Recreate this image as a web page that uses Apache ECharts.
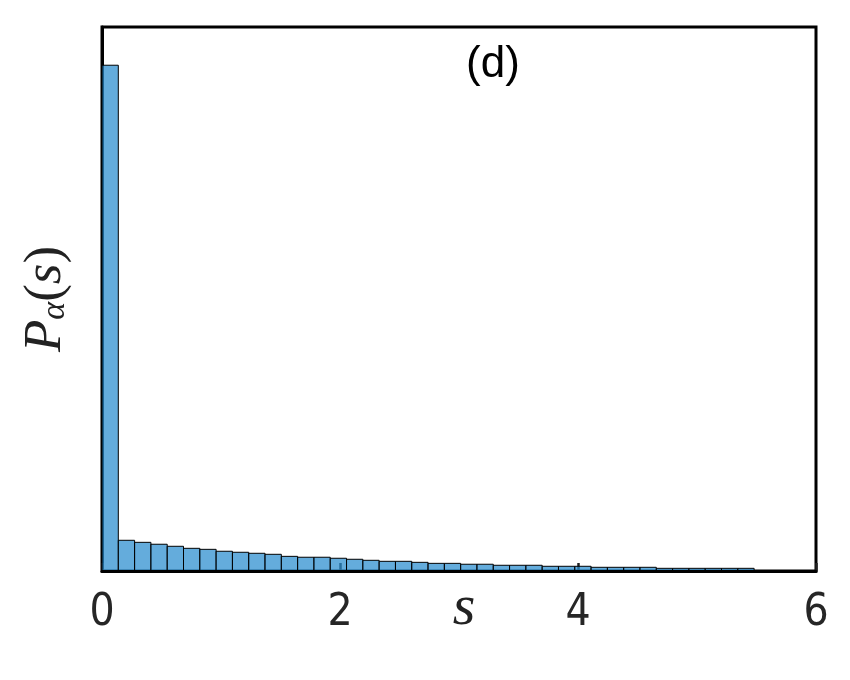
<!DOCTYPE html>
<html><head><meta charset="utf-8">
<script src="https://cdn.jsdelivr.net/npm/echarts@6/dist/echarts.min.js"></script>
<style>html,body{margin:0;padding:0;background:#fff}#c{width:850px;height:680px}</style>
</head><body><div id="c"></div>
<script>
// histogram bins (left edge of first bin and bin width, in units of s)
const binStart = 0;
const binWidth = 0.137;
// bar heights (probability density)
const density = [
  3.97, 0.241, 0.225, 0.210, 0.194, 0.178, 0.170, 0.155, 0.147, 0.139,
  0.131, 0.115, 0.108, 0.108, 0.100, 0.092, 0.084, 0.076, 0.076, 0.068,
  0.060, 0.060, 0.053, 0.053, 0.045, 0.045, 0.045, 0.037, 0.037, 0.037,
  0.029, 0.029, 0.029, 0.029, 0.021, 0.021, 0.021, 0.021, 0.021, 0.021
];
const xTickValues = [0, 2, 4, 6];
const panelLabel = '(d)';
const xName = 's';

const data = density.map((v, i) => [binStart + i * binWidth, binStart + (i + 1) * binWidth, v]);

const narrowFont = "'DejaVu Sans Condensed','Liberation Sans',Arial,sans-serif";
const sansFont = "'Liberation Sans',Arial,sans-serif";
const serifFont = "'Liberation Serif','DejaVu Serif',serif";

const chart = echarts.init(document.getElementById('c'));
chart.setOption({
  animation: false,
  backgroundColor: '#fff',
  title: {
    text: panelLabel, left: 488, top: 38, textAlign: 'center',
    textStyle: { fontSize: 44, fontWeight: 'normal', color: '#000', fontFamily: sansFont }
  },
  grid: { left: 102, right: 34, top: 27, bottom: 109, show: true, borderColor: '#000', borderWidth: 3, outerBoundsMode: 'none', containLabel: false },
  xAxis: [{
    type: 'value', min: xTickValues[0], max: xTickValues[xTickValues.length - 1], interval: 2, z: 3,
    axisLine: { show: true, lineStyle: { color: '#000', width: 3 } },
    axisTick: { show: false }, splitLine: { show: false },
    axisLabel: { fontSize: 44, margin: 21, color: '#262626', fontFamily: narrowFont },
    name: xName, nameLocation: 'middle', nameGap: 38, nameMoveOverlap: false,
    nameTextStyle: { fontSize: 58, fontStyle: 'italic', fontFamily: serifFont, color: '#222', verticalAlign: 'middle', padding: [0, 0, 0, 10] }
  }, {
    type: 'value', min: xTickValues[0], max: xTickValues[xTickValues.length - 1], interval: 2, z: 0,
    position: 'bottom',
    axisLine: { show: false },
    axisTick: { show: true, inside: true, length: 8, lineStyle: { color: '#222', width: 2.5 } },
    axisLabel: { show: false }, splitLine: { show: false }
  }],
  yAxis: {
    type: 'value', min: 0, max: 4.27,
    axisLine: { show: true, lineStyle: { color: '#000', width: 3 } },
    axisTick: { show: false }, axisLabel: { show: false }, splitLine: { show: false },
    name: '{p|P}{sub|α}{q|(}{p|s}{q|)}', nameLocation: 'middle', nameGap: 30, nameRotate: 90, nameMoveOverlap: false,
    nameTextStyle: {
      rich: {
        p: { fontSize: 53, fontStyle: 'italic', fontFamily: serifFont, color: '#222', lineHeight: 52, verticalAlign: 'middle' },
        q: { fontSize: 53, fontFamily: serifFont, color: '#222', lineHeight: 52, verticalAlign: 'middle' },
        sub: { fontSize: 34, fontStyle: 'italic', fontFamily: serifFont, color: '#222', lineHeight: 28, padding: [30, 0, 0, 0], verticalAlign: 'bottom' }
      }
    }
  },
  series: [{
    type: 'custom',
    xAxisIndex: 0,
    data: data,
    encode: { x: [0, 1], y: 2 },
    renderItem: function (params, api) {
      const p0 = api.coord([api.value(0), api.value(2)]);
      const p1 = api.coord([api.value(1), 0]);
      return {
        type: 'rect',
        shape: { x: p0[0], y: p0[1], width: p1[0] - p0[0], height: p1[1] - p0[1] },
        style: { fill: 'rgba(40,140,206,0.72)', stroke: '#000', lineWidth: 1 }
      };
    }
  }]
});
</script>
</body></html>
